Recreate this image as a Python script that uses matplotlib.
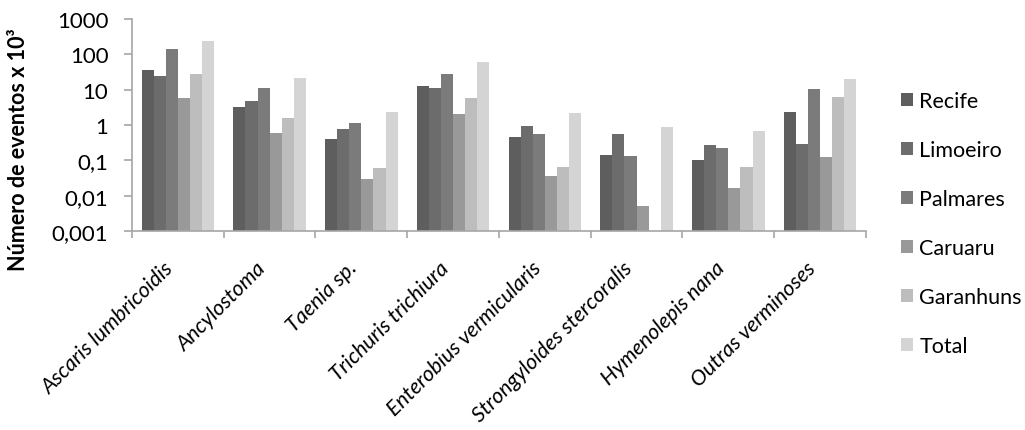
import numpy as np
import matplotlib
matplotlib.use('Agg')
import matplotlib.pyplot as plt
from matplotlib.patches import Patch

plt.rcParams['font.family'] = ['Lato', 'DejaVu Sans']

categories = ['Ascaris lumbricoidis', 'Ancylostoma', 'Taenia sp.', 'Trichuris trichiura',
              'Enterobius vermicularis', 'Strongyloides stercoralis', 'Hymenolepis nana',
              'Outras verminoses']
series_names = ['Recife', 'Limoeiro', 'Palmares', 'Caruaru', 'Garanhuns', 'Total']

recife = [36, 3.3, 0.40, 13, 0.46, 0.144, 0.10, 2.3]
limoeiro = [24.5, 4.9, 0.75, 11.5, 0.95, 0.57, 0.275, 0.29]
palmares = [139, 11, 1.17, 28.5, 0.57, 0.135, 0.22, 10.7]
caruaru = [5.9, 0.59, 0.03, 2.0, 0.037, 0.005, 0.017, 0.124]
garanhuns = [28.5, 1.6, 0.06, 5.9, 0.066, np.nan, 0.066, 6.1]
total = [234, 21, 2.36, 61, 2.16, 0.87, 0.68, 19.8]

ytick_vals = [0.001, 0.01, 0.1, 1, 10, 100, 1000]
ytick_labels = ['0,001', '0,01', '0,1', '1', '10', '100', '1000']

colors = ['#5e5e5e', '#6c6c6c', '#7b7b7b', '#999999', '#bdbdbd', '#d4d4d4']
series = [recife, limoeiro, palmares, caruaru, garanhuns, total]

fig = plt.figure(figsize=(10.25, 4.31), dpi=100)
ax = fig.add_axes([0.1288, 0.4617, 0.716, 0.4919])

x = np.arange(len(categories))
bw = 0.132
base = 0.001
for i, (vals, c) in enumerate(zip(series, colors)):
    v = np.array(vals, dtype=float)
    ok = ~np.isnan(v)
    ax.bar(x[ok] + (i - 2.5) * bw, v[ok] - base, bottom=base, width=bw,
           color=c, edgecolor='none', zorder=2)

ax.set_yscale('log')
ax.set_ylim(0.001, 1000)
ax.set_xlim(-0.5, len(categories) - 0.5)
ax.set_yticks(ytick_vals)
ax.set_yticklabels(ytick_labels)
ax.yaxis.set_minor_locator(matplotlib.ticker.NullLocator())

ax.set_xticks(x)
ax.set_xticklabels(categories, rotation=45, ha='right', va='top',
                   style='italic', fontsize=15.5)
ax.set_xticks(np.arange(len(categories) + 1) - 0.5, minor=True)
ax.tick_params(axis='x', which='major', length=0, pad=19)
ax.tick_params(axis='x', which='minor', length=5, width=1.2, color='#a6a6a6')
ax.tick_params(axis='y', length=6, width=1.2, color='#a6a6a6', labelsize=16, pad=11)

for s in ['top', 'right']:
    ax.spines[s].set_visible(False)
for s in ['left', 'bottom']:
    ax.spines[s].set_color('#a6a6a6')
    ax.spines[s].set_linewidth(1.2)

ax.set_ylabel('Número de eventos x 10³', fontsize=15.5, fontweight='bold')
ax.yaxis.set_label_coords(-0.141, 0.39)

handles = [Patch(facecolor=c, edgecolor='none') for c in colors]
fig.legend(handles, series_names, loc='center left', bbox_to_anchor=(0.879, 0.479),
           frameon=False, fontsize=15.5, handlelength=0.55, handleheight=0.55,
           handletextpad=0.3, labelspacing=1.35, borderpad=0, borderaxespad=0)

fig.savefig('out.png', dpi=100)
